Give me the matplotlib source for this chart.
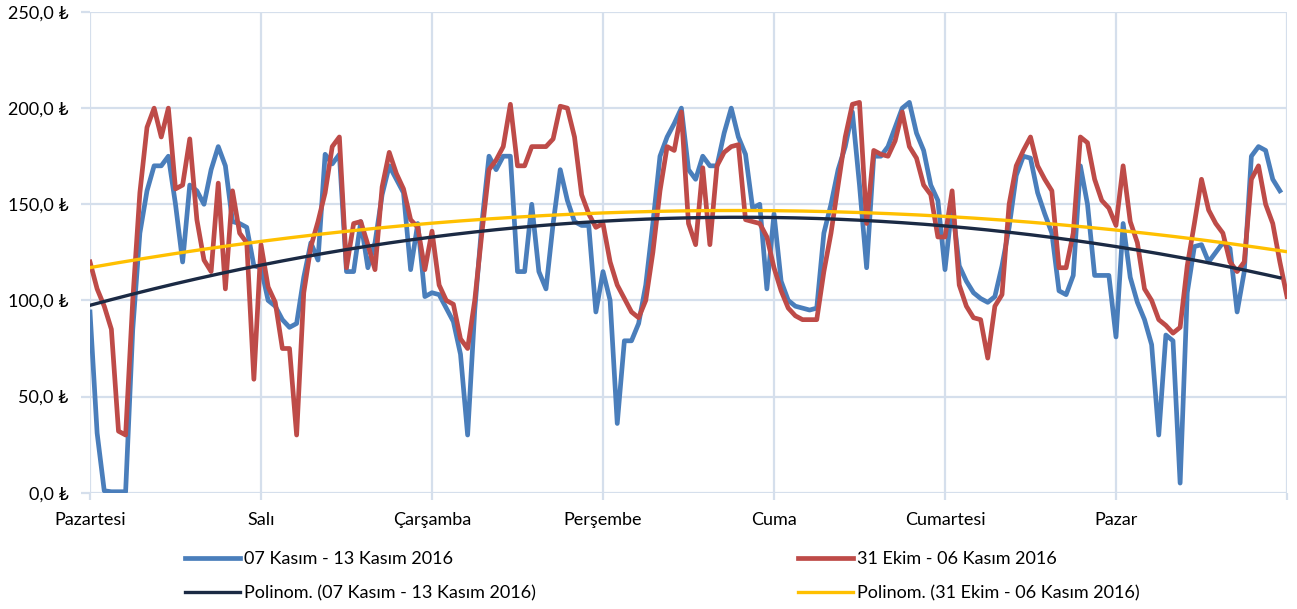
import numpy as np
import matplotlib.pyplot as plt

plt.rcParams['font.family'] = ['Lato', 'DejaVu Sans']

# hourly values over one week (Monday 00:00 ...)
days = ['Pazartesi', 'Salı', 'Çarşamba', 'Perşembe', 'Cuma', 'Cumartesi', 'Pazar']
yticks = [0, 50, 100, 150, 200, 250]

week_nov07 = [
    94, 31, 1, 0.5, 0.5, 0.5, 85, 135, 157, 170, 170, 175, 150, 120, 160, 157, 150, 168, 180, 170, 141, 140, 138, 118,
    117, 100, 97, 90, 86, 88, 112, 130, 121, 176, 171, 176, 115, 115, 141, 117, 130, 155, 170, 163, 156, 116, 140, 102,
    104, 103, 96, 89, 72, 30, 95, 140, 175, 168, 175, 175, 115, 115, 150, 115, 106, 140, 168, 152, 141, 139, 139, 94,
    115, 100, 36, 79, 79, 88, 108, 140, 175, 185, 192, 200, 168, 163, 175, 170, 170, 187, 200, 185, 176, 148, 150, 106,
    145, 110, 100, 97, 96, 95, 96, 135, 150, 168, 180, 198, 160, 117, 175, 175, 180, 190, 200, 203, 187, 178, 160, 152,
    116, 150, 118, 110, 104, 101, 99, 102, 118, 138, 165, 175, 174, 156, 145, 135, 105, 103, 113, 170, 150, 113, 113, 113,
    81, 140, 112, 99, 90, 77, 30, 82, 79, 5, 104, 128, 129, 120, 125, 130, 127, 94, 115, 175, 180, 178, 163, 157,
]

week_oct31 = [
    120, 106, 97, 85, 32, 30, 100, 156, 190, 200, 185, 200, 158, 160, 184, 142, 121, 115, 161, 106, 157, 135, 130, 59,
    129, 107, 99, 75, 75, 30, 104, 128, 141, 156, 180, 185, 117, 140, 141, 129, 116, 159, 177, 166, 158, 142, 138, 116,
    136, 108, 100, 98, 80, 75, 100, 135, 168, 173, 180, 202, 170, 170, 180, 180, 180, 184, 201, 200, 185, 155, 145, 138,
    140, 120, 108, 101, 94, 91, 100, 125, 157, 180, 178, 198, 140, 129, 169, 129, 170, 177, 180, 181, 142, 141, 140, 133,
    117, 105, 96, 92, 90, 90, 90, 115, 135, 160, 185, 202, 203, 140, 178, 176, 175, 183, 198, 180, 174, 160, 155, 133,
    133, 157, 108, 97, 91, 90, 70, 97, 103, 150, 170, 178, 185, 170, 163, 157, 117, 117, 135, 185, 182, 163, 152, 148,
    139, 170, 141, 130, 106, 100, 90, 87, 83, 86, 118, 140, 163, 147, 140, 135, 120, 115, 120, 163, 170, 150, 140, 120,
    102,
]

label_a = '07 Kasım - 13 Kasım 2016'
label_b = '31 Ekim - 06 Kasım 2016'

x_a = np.arange(len(week_nov07))
x_b = np.arange(len(week_oct31))
trend_a = np.polyval(np.polyfit(x_a, week_nov07, 2), x_a)
trend_b = np.polyval(np.polyfit(x_b, week_oct31, 2), x_b)

W, H = 1297, 609
fig = plt.figure(figsize=(W / 100, H / 100), dpi=100)
ax = fig.add_axes([90 / W, 1 - 492.7 / H, 1197 / W, 480.7 / H])

grid_c = '#d5dfec'
l1, = ax.plot(x_a, week_nov07, color='#4a7ebb', lw=3.4, solid_joinstyle='round', zorder=3)
l2, = ax.plot(x_b, week_oct31, color='#be4b48', lw=3.4, solid_joinstyle='round', zorder=3)
l3, = ax.plot(x_a, trend_a, color='#1b2a44', lw=2.4, zorder=4)
l4, = ax.plot(x_b, trend_b, color='#ffc000', lw=2.4, zorder=4)

ax.set_xlim(0, 168)
ax.set_ylim(0, 250)
ax.set_xticks(np.arange(0, 169, 24))
ax.set_xticklabels(days + [''])
ax.set_yticks(yticks)
ax.set_yticklabels([f'{v},0 ₺' for v in yticks])
ax.grid(True, color=grid_c, lw=1.6)
ax.set_axisbelow(True)
for s in ax.spines.values():
    s.set_visible(False)
ax.tick_params(axis='y', length=6.5, width=1.6, color=grid_c, pad=9, labelsize=13, labelcolor='#000000')
ax.tick_params(axis='x', length=5, width=1.6, color=grid_c, pad=9, labelsize=13, labelcolor='#000000')

leg_kw = dict(loc='upper left', frameon=False, fontsize=13, handlelength=3.05,
              handletextpad=0.22, labelspacing=1.0, borderpad=0, borderaxespad=0)
fig.legend([l1, l3], [label_a, 'Polinom. (' + label_a + ')'],
           bbox_to_anchor=(185 / W, 1 - 551 / H), **leg_kw)
fig.legend([l2, l4], [label_b, 'Polinom. (' + label_b + ')'],
           bbox_to_anchor=(798 / W, 1 - 551 / H), **leg_kw)

fig.savefig('out.png', dpi=100)
